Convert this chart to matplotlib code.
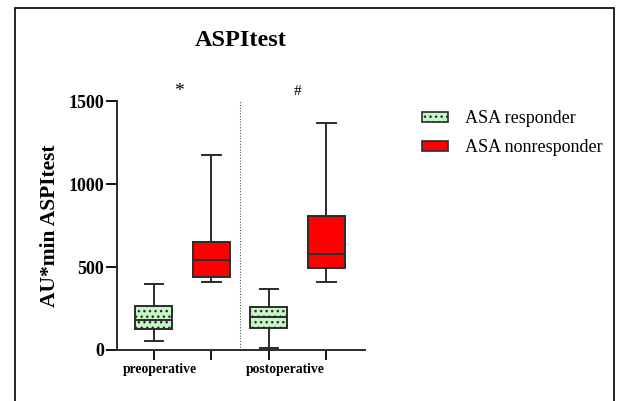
import matplotlib
matplotlib.use("Agg")
import matplotlib.pyplot as plt
from matplotlib.patches import Patch, Rectangle

# ── data ──────────────────────────────────────────────────────────────────────
groups = ["preoperative", "postoperative"]
series = ["ASA responder", "ASA nonresponder"]

# whisker low, Q1, median, Q3, whisker high  (order: pre-resp, pre-nonresp, post-resp, post-nonresp)
whislo = [52, 410, 12, 410]
q1     = [125, 442, 134, 496]
med    = [179, 540, 197, 580]
q3     = [267, 650, 259, 807]
whishi = [398, 1177, 369, 1367]

sig_marks = ["*", "#"]
sig_y     = [1530, 1560]

yticks = [0, 500, 1000, 1500]

# ── styles ────────────────────────────────────────────────────────────────────
GREEN = "#c6f5c6"
RED   = "#ff0000"
EDGE  = "#2b2b2b"
plt.rcParams["font.family"] = ["Liberation Serif", "DejaVu Serif"]
plt.rcParams["hatch.color"] = "#333333"
plt.rcParams["hatch.linewidth"] = 1.0

fig = plt.figure(figsize=(6.19, 4.01), dpi=100)
fig.patches.append(Rectangle((15 / 619, -0.05), (614 - 15) / 619, 1.05 - 8 / 401,
                             transform=fig.transFigure, fill=False,
                             edgecolor="black", linewidth=1.2))

ax = fig.add_axes([117 / 619, 1 - 350 / 401, (365 - 117) / 619, (350 - 101) / 401])

positions = [1, 2, 3, 4]
stats = []
for i in range(4):
    stats.append(dict(whislo=whislo[i], q1=q1[i], med=med[i], q3=q3[i],
                      whishi=whishi[i], fliers=[]))

bp = ax.bxp(stats, positions=positions, widths=0.64, patch_artist=True,
            showfliers=False,
            boxprops=dict(edgecolor=EDGE, linewidth=1.4),
            medianprops=dict(color=EDGE, linewidth=1.4),
            whiskerprops=dict(color=EDGE, linewidth=1.4),
            capprops=dict(color=EDGE, linewidth=1.4),
            capwidths=0.32)

for i, box in enumerate(bp["boxes"]):
    if i % 2 == 0:
        box.set_facecolor(GREEN)
        box.set_hatch("...")
    else:
        box.set_facecolor(RED)

ax.axvline(2.5, ymin=0, ymax=1, color="#555555", linestyle=(0, (1, 1.5)), linewidth=0.8)

ax.set_xlim(0.36, 4.67)
ax.set_ylim(0, 1500)
ax.set_yticks(yticks)
ax.set_yticklabels([str(t) for t in yticks], fontsize=13, fontweight="bold")
ax.set_xticks(positions)
ax.set_xticklabels([])
ax.tick_params(axis="y", length=8, width=1.3, pad=1.5)
ax.tick_params(axis="x", length=7.5, width=1.3)
for s in ["top", "right"]:
    ax.spines[s].set_visible(False)
for s in ["left", "bottom"]:
    ax.spines[s].set_linewidth(1.4)
    ax.spines[s].set_color(EDGE)

ax.set_ylabel("AU*min ASPItest", fontsize=15.5, fontweight="bold", labelpad=6)

# group labels under the axis
for gx, g in zip([1.1, 3.28], groups):
    ax.text(gx, -0.08, g, transform=ax.get_xaxis_transform(), ha="center", va="center",
            fontsize=9.8, fontweight="bold", clip_on=False)

# significance marks
ax.text(1.44, sig_y[0], sig_marks[0], ha="center", va="baseline", fontsize=14,
        clip_on=False)
ax.text(3.49, sig_y[1], sig_marks[1], ha="center", va="center", fontsize=11,
        clip_on=False)

fig.text(241 / 619, 1 - 40 / 401, "ASPItest", ha="center", va="center",
         fontsize=17.5, fontweight="bold")

handles = [Patch(facecolor=GREEN, edgecolor=EDGE, hatch="...", linewidth=1.2),
           Patch(facecolor=RED, edgecolor=EDGE, linewidth=1.2)]
fig.legend(handles, series, loc="upper left", bbox_to_anchor=(406 / 619, 1 - 94 / 401),
           frameon=False, fontsize=13, handlelength=1.45, handleheight=0.45,
           handletextpad=0.9, labelspacing=0.66)

fig.savefig("out.png", dpi=100)
